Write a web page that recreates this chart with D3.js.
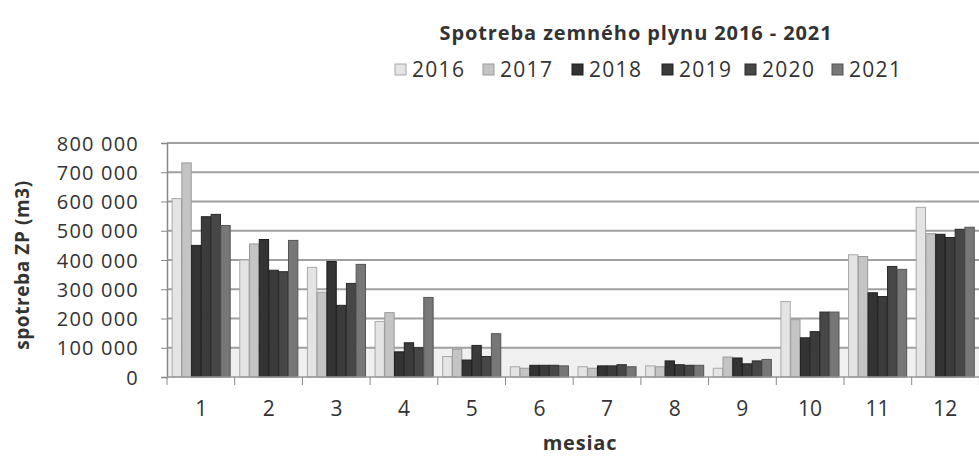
<!DOCTYPE html>
<html><head><meta charset="utf-8">
<script src="https://cdn.jsdelivr.net/npm/d3@7"></script>
<style>
html,body{margin:0;padding:0;background:#fff;}
text{font-family:"Open Sans",sans-serif;fill:#333;}
</style></head>
<body>
<svg id="chart" width="979" height="459"></svg>
<script>
const months = ["1","2","3","4","5","6","7","8","9","10","11","12"];
const years = ["2016","2017","2018","2019","2020","2021"];
const v2016 = [610000,400000,375000,190000,70000,35000,35000,38000,30000,258000,418000,580000];
const v2017 = [732000,455000,290000,220000,95000,30000,30000,35000,68000,196000,412000,490000];
const v2018 = [450000,470000,395000,86000,58000,40000,38000,55000,65000,134000,288000,488000];
const v2019 = [548000,365000,245000,117000,108000,40000,38000,42000,45000,155000,275000,477000];
const v2020 = [556000,360000,320000,100000,70000,40000,42000,40000,55000,222000,378000,505000];
const v2021 = [518000,467000,385000,272000,148000,38000,35000,40000,60000,222000,368000,512000];
const series = [v2016,v2017,v2018,v2019,v2020,v2021];
const yTicks = [0,100000,200000,300000,400000,500000,600000,700000,800000];
const fill = ["#e4e4e4","#c4c4c4","#333333","#3b3b3b","#474747","#777777"];
const edge = ["#a8a8a8","#9a9a9a","#1e1e1e","#222","#2a2a2a","#555"];

const svg = d3.select("#chart");
const pL = 167, pR = 979, pT = 143, pB = 377, cw = 67.7;
const y = d3.scaleLinear().domain([0,800000]).range([pB,pT]);
const x0 = d3.scaleBand().domain(months).range([pL, pL + 12*cw]).paddingInner(0.13).paddingOuter(0.07);
const x1 = d3.scaleBand().domain(years).range([0, x0.bandwidth()]).padding(0.04);

// floor band
svg.append("rect").attr("x",pL).attr("y",y(100000)).attr("width",pR-pL).attr("height",pB-y(100000))
  .attr("fill","#f0f0f0");

// gridlines
svg.append("g").selectAll("line").data(yTicks.slice(1)).join("line")
  .attr("x1", pL).attr("x2", pR)
  .attr("y1", d=>y(d)).attr("y2", d=>y(d))
  .attr("stroke","#a0a0a0").attr("stroke-width",2);

// bars
const groups = svg.append("g").selectAll("g").data(months).join("g")
  .attr("transform", d=>`translate(${x0(d)},0)`);
groups.selectAll("rect").data((m,i)=>years.map((yr,k)=>({yr,k,v:series[k][i]}))).join("rect")
  .attr("x", d=>x1(d.yr)).attr("width", x1.bandwidth())
  .attr("y", d=>y(d.v)).attr("height", d=>pB - y(d.v))
  .attr("fill", d=>fill[d.k]).attr("stroke", d=>edge[d.k]).attr("stroke-width",1);

// axes
const yAxis = d3.axisLeft(y).tickValues(yTicks).tickSize(6).tickPadding(22)
  .tickFormat(d=>d3.format(",")(d).replace(/,/g," "));
const gy = svg.append("g").attr("transform",`translate(${pL},0)`).call(yAxis);
gy.select(".domain").attr("stroke","#888").attr("stroke-width",1.5);
gy.selectAll(".tick line").attr("stroke","#888");
gy.selectAll("text").attr("font-size",20).attr("letter-spacing","1.2px").attr("fill","#333")
  .attr("font-family","Open Sans").attr("dy","0.35em");

const xAxis = d3.axisBottom(x0).tickSize(0).tickPadding(24);
const gx = svg.append("g").attr("transform",`translate(0,${pB})`).call(xAxis);
gx.select(".domain").remove();
gx.selectAll("text").attr("font-size",21).attr("fill","#333").attr("font-family","Open Sans");
svg.append("line").attr("x1",pL).attr("x2",pR).attr("y1",pB).attr("y2",pB)
  .attr("stroke","#999").attr("stroke-width",1.5);
svg.append("g").selectAll("line").data(d3.range(13)).join("line")
  .attr("x1", d=>pL + d*cw).attr("x2", d=>pL + d*cw)
  .attr("y1", pB).attr("y2", pB+8).attr("stroke","#888");

// titles
svg.append("text").attr("x",636).attr("y",40).attr("text-anchor","middle")
  .attr("font-size",20).attr("letter-spacing","0.9px").attr("font-weight","bold").text("Spotreba zemného plynu 2016 -  2021");
svg.append("text").attr("x",580).attr("y",450).attr("text-anchor","middle")
  .attr("font-size",20).attr("letter-spacing","0.8px").attr("font-weight","bold").text("mesiac");
svg.append("text").attr("transform","translate(29,265) rotate(-90)").attr("text-anchor","middle")
  .attr("font-size",19).attr("letter-spacing","0.6px").attr("font-weight","bold").text("spotreba ZP (m3)");

// legend
const legX = [395,483,572,662,745,832];
const leg = svg.append("g").selectAll("g").data(years).join("g")
  .attr("transform",(d,i)=>`translate(${legX[i]},0)`);
leg.append("rect").attr("x",0).attr("y",64).attr("width",11).attr("height",11)
  .attr("fill",(d,i)=>fill[i]).attr("stroke",(d,i)=>edge[i]);
leg.append("text").attr("x",17).attr("y",77).attr("font-size",21).attr("letter-spacing","1.3px").text(d=>d);
</script>
</body></html>
